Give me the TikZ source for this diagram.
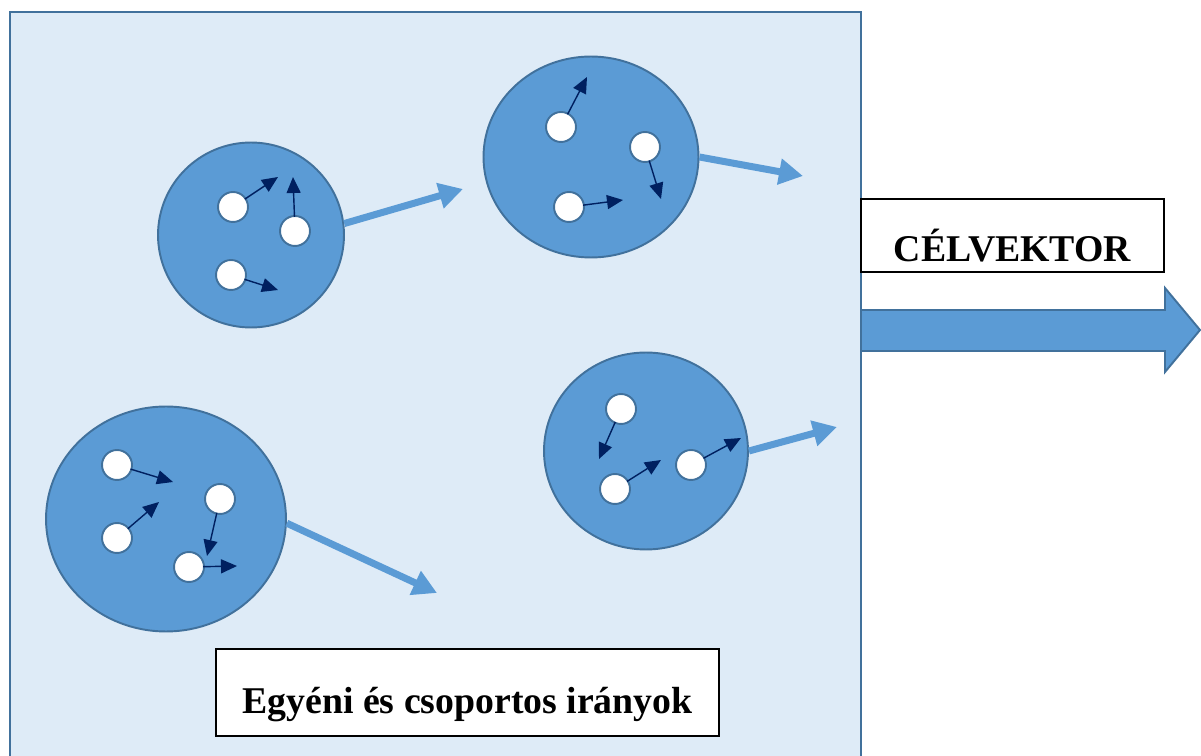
\documentclass[tikz,border=0pt]{standalone}
\usepackage{fontspec}
\setmainfont{Liberation Serif}
\usepackage{xcolor}
\usetikzlibrary{shapes.geometric,arrows.meta,positioning,calc}
\definecolor{bgblue}{RGB}{222,235,247}
\definecolor{grpblue}{RGB}{91,155,213}
\definecolor{rimblue}{RGB}{65,113,156}
\definecolor{navy}{RGB}{0,32,96}

\begin{document}
\begin{tikzpicture}[x=0.02cm, y=-0.02cm,
    group/.style={draw=rimblue, fill=grpblue, ellipse, line width=1.1pt, inner sep=0pt},
    member/.style={draw=rimblue, fill=white, circle, line width=1.1pt, inner sep=0pt, minimum size=0.6cm},
    dart/.style={draw=navy, line width=0.8pt, -{Triangle[length=0.32cm, width=0.28cm]}, shorten <=-1pt},
    drift/.style={draw=grpblue, line width=0.14cm, -{Triangle[length=0.48cm, width=0.5cm]}},
    label/.style={draw=black, fill=white, line width=1.1pt, font=\fontsize{21.5}{25}\selectfont\bfseries, text depth=0pt}]
    \clip (0,0) rectangle (1201,756);
    \fill[white] (0,0) rectangle (1201,756);
    \draw[draw=rimblue, fill=bgblue, line width=1.1pt] (10,12) rectangle (861,780);

    % groups
    \node [group, minimum width=3.72cm, minimum height=3.7cm] (g1) at (251,235) {};
    \node [group, minimum width=4.3cm, minimum height=4.02cm] (g2) at (591,157) {};
    \node [group, minimum width=4.8cm, minimum height=4.5cm] (g3) at (166,519) {};
    \node [group, minimum width=4.08cm, minimum height=3.94cm] (g4) at (646,451) {};

    % group directions
    \coordinate (d1) at (463,189);
    \coordinate (d2) at (803,176);
    \coordinate (d3) at (437,593);
    \coordinate (d4) at (837,427);
    \draw [drift] (g1.7) -- (d1);
    \draw [drift] (g2.0) -- (d2);
    \draw [drift] (g3.-2) -- (d3);
    \draw [drift] (g4.0) -- (d4);

    % members and their own directions
    \node [member] (a1) at (233,207) {};
    \node [member] (a2) at (295,231) {};
    \node [member] (a3) at (231,275) {};
    \coordinate (ta1) at (278,177);
    \coordinate (ta2) at (293,177);
    \coordinate (ta3) at (278,290);
    \draw [dart] (a1) -- (ta1);
    \draw [dart] (a2) -- (ta2);
    \draw [dart] (a3) -- (ta3);

    \node [member] (b1) at (561,127) {};
    \node [member] (b2) at (645,147) {};
    \node [member] (b3) at (569,207) {};
    \coordinate (tb1) at (587,77);
    \coordinate (tb2) at (661,199);
    \coordinate (tb3) at (623,200);
    \draw [dart] (b1) -- (tb1);
    \draw [dart] (b2) -- (tb2);
    \draw [dart] (b3) -- (tb3);

    \node [member] (c1) at (117,465) {};
    \node [member] (c2) at (117,538) {};
    \node [member] (c3) at (220,499) {};
    \node [member] (c4) at (189,567) {};
    \coordinate (tc1) at (173,482);
    \coordinate (tc2) at (159,502);
    \coordinate (tc3) at (207,556);
    \coordinate (tc4) at (237,566);
    \draw [dart] (c1) -- (tc1);
    \draw [dart] (c2) -- (tc2);
    \draw [dart] (c3) -- (tc3);
    \draw [dart] (c4) -- (tc4);

    \node [member] (e1) at (621,409) {};
    \node [member] (e2) at (615,489) {};
    \node [member] (e3) at (691,465) {};
    \coordinate (te1) at (599,459);
    \coordinate (te2) at (661,460);
    \coordinate (te3) at (741,438);
    \draw [dart] (e1) -- (te1);
    \draw [dart] (e2) -- (te2);
    \draw [dart] (e3) -- (te3);

    % target vector
    \draw [draw=rimblue, fill=grpblue, line width=1.1pt]
        (861,310) -- (1165,310) -- (1165,288) -- (1200,330) -- (1165,372) -- (1165,351) -- (861,351) -- cycle;
    \node [label, minimum width=6.06cm, minimum height=1.46cm, text height=1.06cm] (target) at (1012.5,235.5) {CÉLVEKTOR};
    \node [label, minimum width=10.06cm, minimum height=1.74cm, text height=0.86cm] (legend) at (467.5,692.5) {Egyéni és csoportos irányok};
\end{tikzpicture}
\end{document}
